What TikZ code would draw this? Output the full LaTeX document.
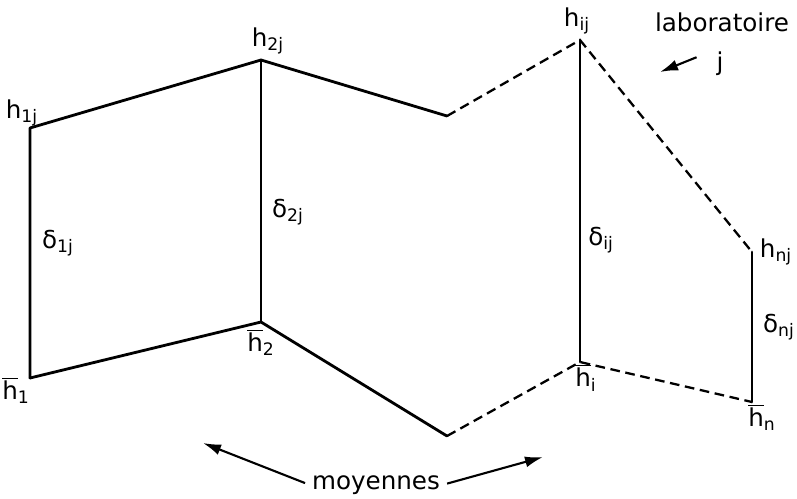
\documentclass[tikz,border=0pt]{standalone}
\usepackage{fontspec}
\setmainfont{DejaVu Sans}
\usepackage{tikz}
\usetikzlibrary{arrows.meta,positioning}
\tikzset{
  trait/.style={line width=1.6pt,line cap=round,line join=round},
  tiret/.style={line width=1.3pt,dash pattern=on 5.5pt off 3.2pt},
  fleche/.style={-{Latex[length=3.6mm,width=2.2mm]},line width=1.2pt},
  lbl/.style={font=\fontsize{14}{16}\selectfont,inner sep=1pt},
}
\newcommand\hmoy[1]{$\overline{\hbox{h}}$\textsubscript{#1}}

\begin{document}
\begin{tikzpicture}[x=0.02cm,y=-0.02cm]
    \useasboundingbox (0,0) rectangle (797,498);
    % sommets
    \foreach \n/\x/\y in {h1j/30/128,h1/30/378,h2j/261/60,h2/261/322,mh/447/116,mb/447/436,
                          hij/580/40,hi/580/362,hnj/752/252,hn/752/402}
      \coordinate (\n) at (\x,\y);
    % traits pleins
    \draw[trait] (h1) -- (h1j) -- (h2j) -- (mh);
    \draw[trait] (h1) -- (h2) -- (mb);
    \draw[trait] (h2j) -- (h2);
    \draw[trait] (hij) -- (hi);
    \draw[trait] (hnj) -- (hn);
    % traits interrompus
    \draw[tiret] (mh) -- (hij) -- (hnj);
    \draw[tiret] (mb) -- (hi) -- (hn);
    % etiquettes
    \node[lbl] (lh1j) at (22,113) {h\textsubscript{1j}};
    \node[lbl] (ld1j) at (58,243) {δ\textsubscript{1j}};
    \node[lbl] (lh1) at (16,390) {\hmoy{1}};
    \node[lbl] (lh2j) at (268,41) {h\textsubscript{2j}};
    \node[lbl] (ld2j) at (288,212) {δ\textsubscript{2j}};
    \node[lbl] (lh2) at (261,342) {\hmoy{2}};
    \node[lbl] (lhij) at (577,21) {h\textsubscript{ij}};
    \node[lbl] (ldij) at (601,240) {δ\textsubscript{ij}};
    \node[lbl] (lhi) at (586,378) {\hmoy{i}};
    \node[lbl] (lhnj) at (776,252) {h\textsubscript{nj}};
    \node[lbl] (ldnj) at (779,327) {δ\textsubscript{nj}};
    \node[lbl] (lhn) at (762,417) {\hmoy{n}};
    \node[lbl] (labo) at (722,22) {laboratoire};
    \node[lbl] (labj) at (720,64) {j};
    \node[lbl] (moy) at (376,485) {moyennes};
    \coordinate (cl) at (660,72);
    \coordinate (cg) at (203,443);
    \coordinate (cd) at (543,457);
    % fleches
    \draw[fleche,shorten <=11pt] (labj.north west) -- (cl);
    \draw[fleche,shorten <=3pt] (moy.west) -- (cg);
    \draw[fleche,shorten <=3pt] (moy.east) -- (cd);
\end{tikzpicture}
\end{document}
